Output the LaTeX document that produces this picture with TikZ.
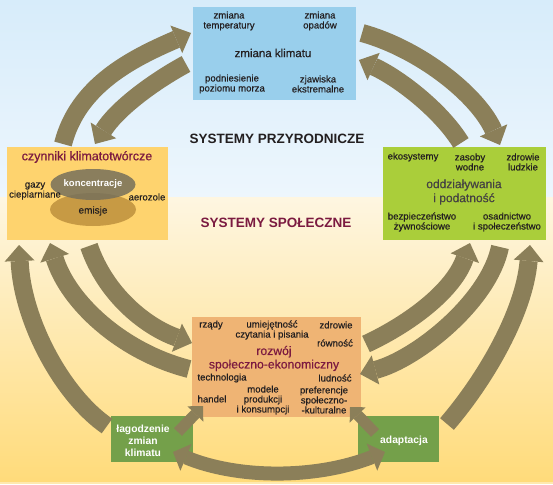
\documentclass[tikz,border=0pt]{standalone}
\usepackage{fontspec}
\setmainfont{Liberation Sans}
\newfontfamily\lblf{Liberation Sans}[FakeBold=0.45]
\usetikzlibrary{arrows.meta}
\definecolor{arr}{HTML}{8B7F59}
\definecolor{bgtopA}{HTML}{D7ECFA}
\definecolor{bgtopB}{HTML}{EDF6FD}
\definecolor{bgbotA}{HTML}{FEF6E1}
\definecolor{bgbotB}{HTML}{FFDB7A}
\definecolor{boxblue}{HTML}{99CFEC}
\definecolor{boxyellow}{HTML}{FED36E}
\definecolor{boxlime}{HTML}{AACE3A}
\definecolor{boxorange}{HTML}{EFB474}
\definecolor{boxgreen}{HTML}{74A04A}
\definecolor{ellup}{RGB}{118,112,91}
\definecolor{elllow}{HTML}{C79A44}
\definecolor{txt}{HTML}{231F20}
\definecolor{maroon}{HTML}{7B1A40}
\begin{document}
\begin{tikzpicture}[x=1pt,y=-1pt,
  box/.style={draw=none, inner sep=0pt, outer sep=0pt},
  lbl/.style={inner sep=0pt, align=center, text=txt, font=\lblf\fontsize{9.6}{10}\selectfont},
  big/.style={inner sep=0pt, align=center, text=txt, font=\lblf\fontsize{11.5}{14}\selectfont},
  redbig/.style={inner sep=0pt, align=center, text=maroon, font=\lblf\fontsize{12.2}{13.5}\selectfont},
  wlbl/.style={inner sep=0pt, align=center, text=white, font=\bfseries\fontsize{10.3}{12}\selectfont},
  head/.style={inner sep=0pt, font=\bfseries\fontsize{13.5}{15}\selectfont},
  bigarr/.style={draw=arr, line width=18pt, -{Triangle[width=30pt,length=16pt,line width=0pt]}},
  smallarr/.style={draw=arr, line width=11pt, -{Triangle[width=22pt,length=11pt,line width=0pt]}},
  dblarr/.style={draw=arr, line width=14pt, {Triangle[width=29pt,length=14pt,line width=0pt]}-{Triangle[width=29pt,length=14pt,line width=0pt]}}
]
\useasboundingbox (0,0) rectangle (553,484);
% background
\shade[top color=bgtopA, bottom color=bgtopB] (0,0) rectangle (553,197);
\shade[top color=bgbotA, bottom color=bgbotB] (0,197) rectangle (553,482);
\fill[bgbotB!60!white] (0,482) rectangle (553,484);

% boxes
\node[box, fill=boxblue, minimum width=163pt, minimum height=93pt] (topb) at (274.5,53.5) {};
\node[box, fill=boxyellow, minimum width=161pt, minimum height=93pt] (leftb) at (87.5,193.5) {};
\node[box, fill=boxlime, minimum width=163pt, minimum height=93pt] (rightb) at (464.5,193.5) {};
\node[box, fill=boxorange, minimum width=169pt, minimum height=100pt] (botb) at (276.5,367) {};
\node[box, fill=boxgreen, minimum width=82pt, minimum height=46pt] (lagb) at (152,439) {};
\node[box, fill=boxgreen, minimum width=81pt, minimum height=46pt] (adab) at (398.5,439) {};

% ellipses
\fill[elllow] (93,209.5) ellipse [x radius=43, y radius=16.5];
\fill[ellup, opacity=0.85] (93,184.5) ellipse [x radius=42.5, y radius=15.5];

% arrow end points
\coordinate (A0) at (63,144);  \coordinate (A1) at (191,33);
\coordinate (B0) at (186,64);  \coordinate (B1) at (95,144);
\coordinate (C0) at (362,33);  \coordinate (C1) at (500,145);
\coordinate (D0) at (461,143); \coordinate (D1) at (359,60);
\coordinate (E0) at (107,426); \coordinate (E1) at (19,245);
\coordinate (F0) at (189,369); \coordinate (F1) at (50,243);
\coordinate (G0) at (89,246);  \coordinate (G1) at (192,343);
\coordinate (H0) at (366,344); \coordinate (H1) at (470,243);
\coordinate (I0) at (500,247); \coordinate (I1) at (360,374);
\coordinate (J0) at (447,424); \coordinate (J1) at (530,245);
\coordinate (K0) at (178,432); \coordinate (K1) at (203,406);
\coordinate (L0) at (375,433); \coordinate (L1) at (350,407);
\coordinate (M0) at (173,452); \coordinate (M1) at (385,452);

\draw[bigarr] (A0) .. controls (78,85) and (133,58) .. (A1);
\draw[bigarr] (B0) .. controls (151,83) and (116,110) .. (B1);
\draw[bigarr] (C0) .. controls (420,49) and (478,95) .. (C1);
\draw[bigarr] (D0) .. controls (440,109) and (397,77) .. (D1);
\draw[bigarr] (E0) .. controls (62,395) and (22,320) .. (E1);
\draw[bigarr] (F0) .. controls (122,352) and (68,302) .. (F1);
\draw[bigarr] (G0) .. controls (105,293) and (144,326) .. (G1);
\draw[bigarr] (H0) .. controls (411,323) and (454,290) .. (H1);
\draw[bigarr] (I0) .. controls (489,301) and (417,359) .. (I1);
\draw[bigarr] (J0) .. controls (484,381) and (524,314) .. (J1);
\draw[smallarr] (K0) -- (K1);
\draw[smallarr] (L0) -- (L1);
\draw[dblarr] (M0) .. controls (238,479) and (316,479) .. (M1);

% headings
\node[head, text=txt] (hprz) at (277,139) {SYSTEMY PRZYRODNICZE};
\node[head, text=maroon] (hspo) at (276,223) {SYSTEMY SPOŁECZNE};

% top box texts
\node[lbl] (t1) at (229,21) {zmiana\\temperatury};
\node[lbl] (t2) at (320,21) {zmiana\\opadów};
\node[big] (t3) at (273,53) {zmiana klimatu};
\node[lbl] (t4) at (232,84) {podniesienie\\poziomu morza};
\node[lbl] (t5) at (318,84) {zjawiska\\ekstremalne};

% left box texts
\node[inner sep=0pt, text=maroon, font=\lblf\fontsize{12.5}{14}\selectfont] (l1) at (87,157) {czynniki klimatotwórcze};
\node[lbl] (l2) at (35,191) {gazy\\cieplarniane};
\node[lbl] (l3) at (147,197) {aerozole};
\node[inner sep=0pt, text=white, font=\bfseries\fontsize{9.5}{11}\selectfont] (l4) at (93,184) {koncentracje};
\node[inner sep=0pt, text=txt, font=\lblf\fontsize{10}{11}\selectfont] (l5) at (93,211) {emisje};

% right box texts
\node[lbl] (r1) at (413,157) {ekosystemy};
\node[lbl] (r2) at (470,162) {zasoby\\wodne};
\node[lbl] (r3) at (523,162) {zdrowie\\ludzkie};
\node[big, text=txt!85!white, font=\lblf\fontsize{12}{14}\selectfont] (r4) at (464,192) {oddziaływania\\i podatność};
\node[lbl] (r5) at (422,222) {bezpieczeństwo\\żywnościowe};
\node[lbl] (r6) at (507,222) {osadnictwo\\i społeczeństwo};

% bottom box texts
\node[lbl] (b1) at (211,325) {rządy};
\node[lbl] (b2) at (272,330) {umiejętność\\czytania i pisania};
\node[lbl] (b3) at (336,325) {zdrowie};
\node[lbl] (b4) at (335,343) {równość};
\node[redbig] (b5) at (274,358.5) {rozwój\\społeczno-ekonomiczny};
\node[lbl] (b6) at (222,378) {technologia};
\node[lbl] (b7) at (335,378) {ludność};
\node[lbl] (b8) at (263,400) {modele\\produkcji\\i konsumpcji};
\node[lbl] (b9) at (324,400) {preferencje\\społeczno-\\-kulturalne};
\node[lbl] (b10) at (212,399) {handel};

% green boxes texts
\node[wlbl] (g1) at (143,440.5) {łagodzenie\\zmian\\klimatu};
\node[wlbl] (g2) at (404,441) {adaptacja};
\end{tikzpicture}
\end{document}
